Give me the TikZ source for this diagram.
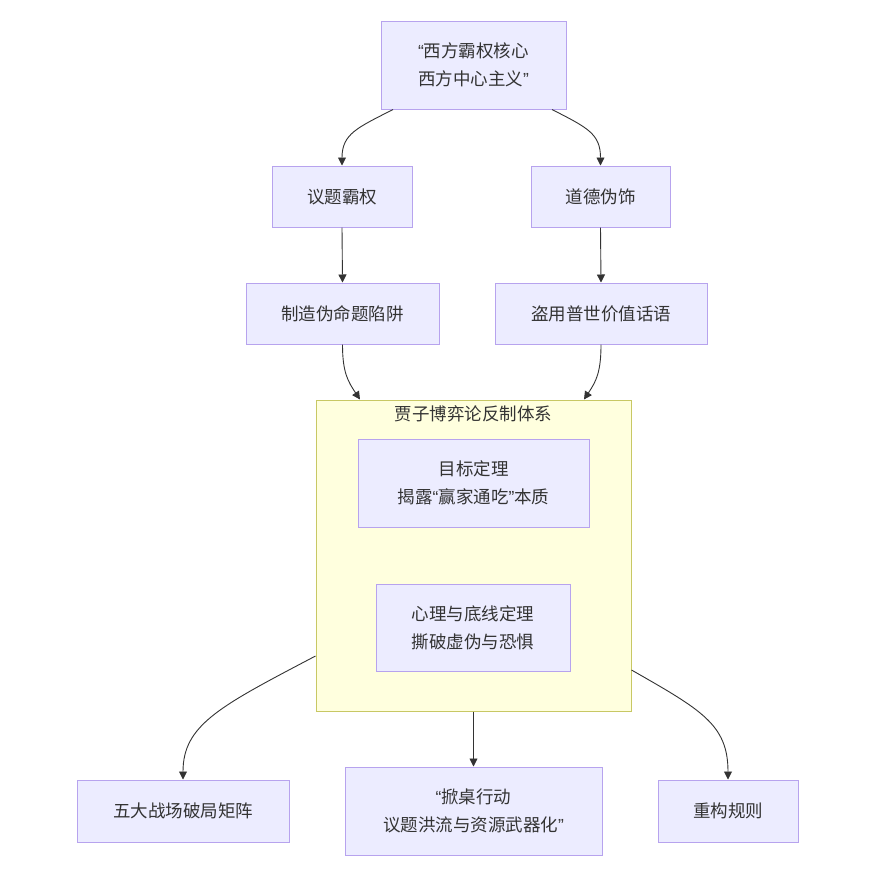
\documentclass[tikz,border=0pt]{standalone}
\usepackage{fontspec}
\setmainfont{Noto Sans CJK SC}
\newfontfamily\qfont{Liberation Sans}
\newcommand{\myLq}{{\qfont “}}
\newcommand{\myRq}{{\qfont ”}}
\usetikzlibrary{arrows.meta,calc}
\definecolor{nodefill}{HTML}{ECECFF}
\definecolor{nodeline}{HTML}{B7A3EE}
\definecolor{clfill}{HTML}{FFFFDE}
\definecolor{clline}{HTML}{C8C864}
\definecolor{txt}{HTML}{333333}
\definecolor{edge}{HTML}{333333}
\tikzset{
  box/.style={draw=nodeline, fill=nodefill, line width=1pt, align=center,
    text=txt, font=\fontsize{17.5}{28}\selectfont, inner sep=0pt},
  link/.style={draw=edge, line width=0.9pt, -{Triangle[width=8pt,length=8pt]}},
}
\begin{document}
\begin{tikzpicture}[x=1pt,y=-1pt]
\useasboundingbox[fill=white] (0,0) rectangle (879,879);
% cluster
\node[draw=clline, fill=clfill, line width=1pt, minimum width=315pt, minimum height=311pt, inner sep=0pt] (cl) at (473.5,555.5) {};
\node[text=txt, font=\fontsize{17.5}{20}\selectfont, inner sep=0pt] (cltitle) at (473.5,414) {贾子博弈论反制体系};
% nodes
\node[box, minimum width=185pt, minimum height=88pt] (top) at (473.5,65) {\myLq 西方霸权核心\\西方中心主义\myRq};
\node[box, minimum width=140pt, minimum height=61pt] (a) at (342,196.5) {议题霸权};
\node[box, minimum width=139pt, minimum height=61pt] (b) at (600.5,196.5) {道德伪饰};
\node[box, minimum width=193pt, minimum height=61pt] (a2) at (342.5,313.5) {制造伪命题陷阱};
\node[box, minimum width=212pt, minimum height=61pt] (b2) at (601,313.5) {盗用普世价值话语};
\node[box, minimum width=231pt, minimum height=88pt] (g) at (473.5,483) {目标定理\\揭露\myLq 赢家通吃\myRq 本质};
\node[box, minimum width=194pt, minimum height=87pt] (p) at (473,627.5) {心理与底线定理\\撕破虚伪与恐惧};
\node[box, minimum width=212pt, minimum height=62pt] (o1) at (183,811) {五大战场破局矩阵};
\node[box, minimum width=257pt, minimum height=88pt] (o2) at (473.5,811) {\myLq 掀桌行动\\议题洪流与资源武器化\myRq};
\node[box, minimum width=140pt, minimum height=62pt] (o3) at (728,811) {重构规则};
% edges
\draw[link] ([xshift=-80.5pt]top.south) .. controls +(-35,18) and +(0,-32) .. (a.north);
\draw[link] ([xshift=78.5pt]top.south) .. controls +(35,18) and +(0,-32) .. (b.north);
\draw[link] (a.south) -- (a2.north);
\draw[link] (b.south) -- (b2.north);
\draw[link] (a2.south) .. controls +(0,28) and +(-12,-18) .. ([xshift=-113.5pt]cl.north);
\draw[link] (b2.south) .. controls +(0,28) and +(12,-18) .. ([xshift=110.5pt]cl.north);
\draw[link] ([yshift=-100.5pt]cl.west) .. controls +(-95,50) and +(0,-55) .. (o1.north);
\draw[link] (cl.south -| o2.north) -- (o2.north);
\draw[link] ([yshift=-114.5pt]cl.east) .. controls +(70,40) and +(0,-55) .. (o3.north);
\end{tikzpicture}
\end{document}
